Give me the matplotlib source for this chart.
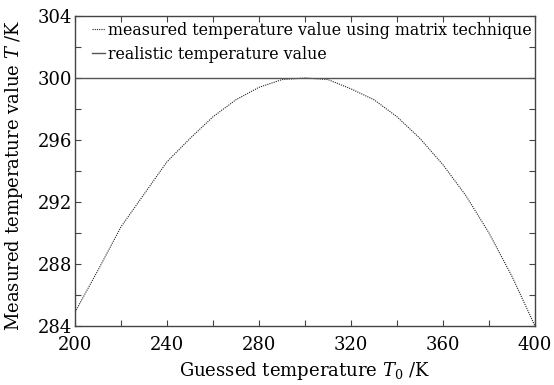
import matplotlib
matplotlib.use("Agg")
import matplotlib.pyplot as plt
from matplotlib.ticker import MultipleLocator

plt.rcParams['font.family'] = ['DejaVu Serif']
plt.rcParams['mathtext.fontset'] = 'dejavuserif'

# guessed temperature T0 (K) and measured temperature T (K)
guess_T0 = [200, 210, 220, 230, 240, 250, 260, 270, 280, 290, 300,
            310, 320, 330, 340, 350, 360, 370, 380, 390, 400]
measured_T = [284.9, 287.6, 290.4, 292.5, 294.6, 296.1, 297.5, 298.6, 299.4, 299.9, 300.0,
              299.9, 299.3, 298.6, 297.5, 296.1, 294.4, 292.4, 290.0, 287.2, 284.0]
real_T = 300

fig = plt.figure(figsize=(5.54, 3.85), dpi=100)
ax = fig.add_axes([0.1354, 0.1532, 0.8303, 0.8052])

ax.plot(guess_T0, measured_T, linestyle=(0, (1, 1)), color='#222222', lw=0.8,
        label='measured temperature value using matrix technique')
ax.axhline(real_T, color='#555555', lw=1.0, label='realistic temperature value')

ax.set_xlim(200, 400)
ax.set_ylim(284, 304)
ax.xaxis.set_major_locator(MultipleLocator(40))
ax.xaxis.set_minor_locator(MultipleLocator(20))
ax.yaxis.set_major_locator(MultipleLocator(4))
ax.yaxis.set_minor_locator(MultipleLocator(2))
ax.tick_params(which='both', direction='in', top=True, right=True,
               length=4, width=0.8, color='#444444', labelsize=13)
ax.tick_params(axis='x', pad=7.5)
ax.tick_params(axis='y', pad=2)

for s in ax.spines.values():
    s.set_color('#444444')
    s.set_linewidth(1.0)

ax.set_xlabel(r'Guessed temperature $T_0$ /K', fontsize=13, labelpad=4)
ax.set_ylabel(r'Measured temperature value $T$ /K', fontsize=13)
ax.yaxis.set_label_coords(-0.109, 0.487)

ax.legend(loc='upper left', bbox_to_anchor=(0.037, 0.981), frameon=False,
          fontsize=11.4, handlelength=0.8, handletextpad=0.2, borderpad=0,
          borderaxespad=0, labelspacing=0.44)

fig.savefig('out.png', dpi=100)
